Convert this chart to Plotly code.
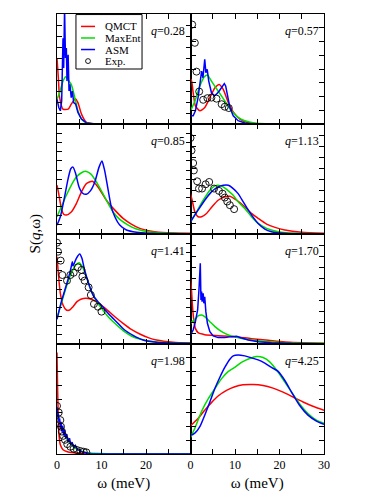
import plotly.graph_objects as go
from plotly.subplots import make_subplots

# q value of each panel, row by row (left, right)
q_labels = ["0.28", "0.57", "0.85", "1.13", "1.41", "1.70", "1.98", "4.25"]

# ---- q = 0.28 ----
w_028_qmct = [0, 0.3, 0.6, 1.35, 2.5, 3.2, 4.1, 4.7, 5.5, 6.6, 8.1, 30]
s_028_qmct = [0.60, 0.42, 0.24, 0.135, 0.135, 0.18, 0.23, 0.195, 0.09, 0.015, 0.003, 0]
w_028_maxent = [0, 0.6, 1.35, 1.95, 2.7, 3.2, 4.0, 4.7, 5.5, 6.6, 8.85, 30]
s_028_maxent = [0.225, 0.285, 0.39, 0.43, 0.39, 0.36, 0.24, 0.12, 0.045, 0.01, 0, 0]
w_028_asm = [0, 0.4, 0.75, 1.05, 1.35, 1.5, 1.7, 1.9, 2.1, 2.25, 2.5, 2.7, 2.9, 3.2,
             3.45, 3.75, 4.2, 4.7, 5.5, 6.6, 8.85, 30]
s_028_asm = [0.225, 0.15, 0.12, 0.21, 0.78, 0.51, 1.05, 0.6, 0.69, 0.39, 0.63, 0.30, 0.36, 0.24,
             0.30, 0.195, 0.18, 0.105, 0.045, 0.01, 0, 0]

# ---- q = 0.57 ----
w_057_qmct = [0, 0.2, 0.6, 1.1, 2.1, 3.2, 4.35, 5.5, 6.45, 7.35, 8.5, 9.6, 11.1, 13.0, 16, 30]
s_057_qmct = [0.39, 0.405, 0.285, 0.165, 0.12, 0.15, 0.24, 0.33, 0.36, 0.315, 0.195, 0.11,
              0.045, 0.012, 0, 0]
w_057_maxent = [0, 1.0, 2.1, 3.1, 3.8, 4.7, 6.2, 7.7, 9.2, 10.7, 12.2, 14.85, 18.2, 30]
s_057_maxent = [0.12, 0.21, 0.345, 0.43, 0.446, 0.39, 0.30, 0.21, 0.12, 0.06, 0.03, 0.006, 0, 0]
w_057_asm = [0, 0.6, 1.1, 1.7, 2.2, 2.5, 2.8, 3.0, 3.2, 3.45, 3.75, 4.1, 4.7, 5.3, 5.85, 6.45,
             7.0, 7.6, 7.9, 8.3, 8.85, 9.6, 10.7, 12.2, 14.5, 30]
s_057_asm = [0.075, 0.075, 0.12, 0.24, 0.39, 0.48, 0.42, 0.527, 0.587, 0.467, 0.497, 0.39, 0.286,
             0.256, 0.271, 0.30, 0.33, 0.367, 0.346, 0.27, 0.15, 0.075, 0.03, 0.009, 0, 0]
w_057_exp = [0.375, 0.975, 1.35, 1.95, 2.85, 3.8, 4.7, 5.85, 7.0, 7.7, 8.6]
s_057_exp = [0.904, 0.738, 0.476, 0.295, 0.22, 0.235, 0.24, 0.23, 0.18, 0.157, 0.145]

# ---- q = 0.85 ----
w_085_qmct = [0, 0.45, 0.975, 1.5, 2.1, 3.2, 4.35, 5.5, 6.6, 7.95, 9.2, 11.1, 13.0, 14.85,
              16.7, 18.6, 22.35, 26.1, 30]
s_085_qmct = [0.443, 0.352, 0.232, 0.18, 0.172, 0.2, 0.277, 0.383, 0.458, 0.479, 0.428, 0.307,
              0.217, 0.142, 0.09, 0.051, 0.018, 0.009, 0.006]
w_085_maxent = [0, 0.975, 2.1, 3.2, 4.35, 5.5, 6.6, 7.7, 8.85, 10.0, 11.1, 12.6, 14.1, 16.0,
                17.85, 20.85, 26.1, 30]
s_085_maxent = [0.157, 0.247, 0.352, 0.443, 0.518, 0.557, 0.569, 0.542, 0.473, 0.39, 0.307, 0.2,
                0.133, 0.081, 0.045, 0.018, 0.006, 0.003]
w_085_asm = [0, 0.75, 1.7, 2.5, 3.1, 3.6, 4.2, 4.95, 5.7, 6.6, 7.5, 8.5, 9.45, 10.1, 10.7, 11.5,
             12.2, 13.0, 14.1, 15.6, 17.85, 20.85, 30]
s_085_asm = [0.081, 0.157, 0.337, 0.503, 0.593, 0.608, 0.548, 0.428, 0.373, 0.361, 0.392, 0.473,
             0.608, 0.663, 0.578, 0.398, 0.247, 0.157, 0.081, 0.036, 0.015, 0.006, 0.003]

# ---- q = 1.13 ----
w_113_qmct = [0, 0.375, 0.975, 1.7, 2.5, 3.6, 4.7, 6.2, 7.6, 8.85, 10.35, 12.2, 13.7, 15.2,
              17.1, 19.0, 21.2, 25.0, 30]
s_113_qmct = [0.367, 0.307, 0.202, 0.157, 0.157, 0.187, 0.241, 0.307, 0.337, 0.343, 0.307, 0.247,
              0.187, 0.142, 0.09, 0.06, 0.036, 0.015, 0.006]
w_113_maxent = [0, 1.35, 2.85, 4.35, 5.5, 6.2, 7.35, 8.5, 9.6, 10.7, 12.2, 13.7, 15.2, 17.1,
                19.0, 22.0, 30]
s_113_maxent = [0.111, 0.202, 0.307, 0.398, 0.437, 0.443, 0.428, 0.392, 0.352, 0.292, 0.232, 0.157,
                0.096, 0.051, 0.027, 0.009, 0.003]
w_113_asm = [0, 1.7, 3.2, 4.7, 6.2, 7.35, 8.5, 9.6, 10.7, 11.85, 13.0, 14.1, 15.2, 16.7, 18.2,
             21.2, 30]
s_113_asm = [0.111, 0.217, 0.307, 0.383, 0.428, 0.443, 0.443, 0.413, 0.367, 0.292, 0.217, 0.151,
             0.096, 0.045, 0.021, 0.006, 0.003]
w_113_exp = [0, 0.225, 0.6, 0.75, 1.5, 1.9, 2.6, 3.4, 4.2, 5.3, 6.4, 7.2, 7.7, 8.25, 8.85, 9.8]
s_113_exp = [0.873, 0.759, 0.645, 0.578, 0.479, 0.413, 0.413, 0.452, 0.473, 0.413, 0.392, 0.367,
             0.331, 0.295, 0.262, 0.226]

# ---- q = 1.41 ----
w_141_qmct = [0, 0.3, 0.75, 1.35, 2.1, 2.85, 3.6, 4.5, 5.5, 6.6, 8.1, 9.6, 11.1, 13.0, 14.85,
              16.7, 18.6, 20.5, 22.35, 26.1, 30]
s_141_qmct = [0.794, 0.642, 0.461, 0.355, 0.309, 0.309, 0.339, 0.385, 0.409, 0.415, 0.4, 0.364,
              0.315, 0.248, 0.188, 0.133, 0.091, 0.058, 0.036, 0.015, 0.006]
w_141_maxent = [0, 0.975, 2.1, 3.2, 4.2, 4.95, 5.7, 6.6, 7.35, 8.5, 10.0, 11.5, 13.0, 14.85,
                16.7, 18.6, 22.35, 30]
s_141_maxent = [0.233, 0.37, 0.521, 0.642, 0.718, 0.739, 0.703, 0.612, 0.521, 0.415, 0.324, 0.248,
                0.188, 0.121, 0.073, 0.045, 0.018, 0.006]
w_141_asm = [0, 0.975, 2.1, 2.85, 3.2, 3.45, 3.6, 4.35, 5.1, 5.6, 6.2, 7.35, 8.1, 9.2, 10.35,
             11.85, 13.35, 15.2, 17.1, 19.35, 22.35, 30]
s_141_asm = [0.224, 0.385, 0.536, 0.642, 0.703, 0.748, 0.709, 0.779, 0.818, 0.779, 0.673, 0.521,
             0.445, 0.385, 0.333, 0.264, 0.203, 0.127, 0.079, 0.036, 0.015, 0.006]
w_141_exp = [0, 0.225, 0.825, 1.2, 2.25, 3.0, 3.75, 4.7, 5.5, 5.7, 6.2, 7.1, 7.6, 8.3, 9.2, 10.0]
s_141_exp = [0.921, 0.839, 0.758, 0.627, 0.576, 0.627, 0.648, 0.697, 0.673, 0.612, 0.576, 0.515,
             0.445, 0.364, 0.339, 0.294]

# ---- q = 1.70 ----
w_170_qmct = [0, 0.225, 0.45, 0.75, 1.1, 1.7, 3.2, 6.2, 10.0, 13.7, 17.5, 21.2, 30]
s_170_qmct = [0.597, 0.491, 0.339, 0.218, 0.142, 0.103, 0.085, 0.076, 0.067, 0.048, 0.033,
              0.018, 0.006]
w_170_maxent = [0, 0.975, 1.7, 2.5, 3.2, 4.35, 5.5, 7.0, 8.5, 10.0, 11.85, 13.7, 17.5, 21.2, 30]
s_170_maxent = [0.188, 0.224, 0.255, 0.264, 0.248, 0.203, 0.158, 0.112, 0.082, 0.064, 0.048,
                0.036, 0.021, 0.012, 0.006]
w_170_asm = [0, 0.6, 1.1, 1.6, 1.9, 2.0, 2.2, 2.35, 2.5, 2.6, 2.85, 3.0, 3.2, 3.45, 3.8, 4.35,
             5.1, 6.2, 7.7, 9.2, 10.35, 11.5, 13.0, 15.2, 18.2, 22.7, 30]
s_170_asm = [0.082, 0.127, 0.203, 0.309, 0.491, 0.582, 0.733, 0.40, 0.476, 0.385, 0.461, 0.37,
             0.43, 0.294, 0.188, 0.112, 0.073, 0.058, 0.058, 0.067, 0.07, 0.055, 0.036, 0.021,
             0.012, 0.006, 0.003]

# ---- q = 1.98 ----
w_198_qmct = [0, 0.075, 0.15, 0.3, 0.45, 0.75, 1.35, 2.5, 4.35, 8.1, 30]
s_198_qmct = [0.922, 0.743, 0.563, 0.323, 0.174, 0.084, 0.039, 0.018, 0.009, 0.003, 0]
w_198_maxent = [0, 0.45, 0.975, 1.7, 2.5, 3.6, 4.7, 5.85, 7.35, 11.1, 30]
s_198_maxent = [0.368, 0.308, 0.24, 0.174, 0.12, 0.069, 0.039, 0.021, 0.009, 0.003, 0]
w_198_asm = [0, 0.15, 0.3, 0.45, 0.6, 0.75, 0.9, 1.05, 1.3, 1.5, 1.7, 1.95, 2.2, 2.5, 2.8, 3.1,
             3.4, 3.75, 4.1, 4.6, 5.1, 5.7, 6.45, 7.35, 30]
s_198_asm = [0.428, 0.338, 0.368, 0.293, 0.323, 0.234, 0.293, 0.204, 0.257, 0.168, 0.219, 0.144,
             0.18, 0.108, 0.144, 0.084, 0.108, 0.06, 0.078, 0.039, 0.033, 0.018, 0.012, 0.003, 0]
w_198_exp = [0, 0.4, 0.75, 0.9, 1.1, 1.4, 1.8, 2.3, 3.0, 3.75, 4.5, 5.25, 6.0, 6.6]
s_198_exp = [0.437, 0.377, 0.308, 0.249, 0.204, 0.165, 0.129, 0.09, 0.066, 0.048, 0.036, 0.027,
             0.021, 0.015]

# ---- q = 4.25 ----
w_425_qmct = [0, 1.7, 3.2, 4.7, 6.2, 8.1, 9.95, 11.8, 14.1, 16.3, 18.55, 20.8, 23.05, 25.3,
              27.5, 30]
s_425_qmct = [0.257, 0.323, 0.398, 0.467, 0.527, 0.578, 0.611, 0.629, 0.632, 0.623, 0.599, 0.563,
              0.518, 0.473, 0.434, 0.398]
w_425_maxent = [0, 0.975, 2.5, 4.0, 5.45, 6.95, 8.45, 9.95, 11.45, 13.3, 14.8, 16.3, 17.8, 19.7,
                21.2, 22.7, 24.5, 26.4, 28.3, 30]
s_425_maxent = [0.15, 0.234, 0.389, 0.503, 0.593, 0.683, 0.749, 0.787, 0.832, 0.868, 0.886, 0.877,
                0.838, 0.743, 0.653, 0.563, 0.458, 0.368, 0.308, 0.278]
w_425_asm = [0, 0.075, 0.975, 2.1, 3.2, 4.35, 5.45, 6.6, 7.7, 8.85, 9.6, 10.7, 12.2, 13.7, 15.2,
             16.7, 18.2, 19.7, 21.2, 22.7, 24.5, 26.4, 28.3, 30]
s_425_asm = [0.353, 0.174, 0.189, 0.249, 0.353, 0.473, 0.593, 0.698, 0.787, 0.862, 0.892, 0.901,
             0.892, 0.874, 0.856, 0.826, 0.787, 0.751, 0.668, 0.563, 0.443, 0.353, 0.299, 0.269]

panels = [
    dict(qmct=(w_028_qmct, s_028_qmct), maxent=(w_028_maxent, s_028_maxent),
         asm=(w_028_asm, s_028_asm), exp=None),
    dict(qmct=(w_057_qmct, s_057_qmct), maxent=(w_057_maxent, s_057_maxent),
         asm=(w_057_asm, s_057_asm), exp=(w_057_exp, s_057_exp)),
    dict(qmct=(w_085_qmct, s_085_qmct), maxent=(w_085_maxent, s_085_maxent),
         asm=(w_085_asm, s_085_asm), exp=None),
    dict(qmct=(w_113_qmct, s_113_qmct), maxent=(w_113_maxent, s_113_maxent),
         asm=(w_113_asm, s_113_asm), exp=(w_113_exp, s_113_exp)),
    dict(qmct=(w_141_qmct, s_141_qmct), maxent=(w_141_maxent, s_141_maxent),
         asm=(w_141_asm, s_141_asm), exp=(w_141_exp, s_141_exp)),
    dict(qmct=(w_170_qmct, s_170_qmct), maxent=(w_170_maxent, s_170_maxent),
         asm=(w_170_asm, s_170_asm), exp=None),
    dict(qmct=(w_198_qmct, s_198_qmct), maxent=(w_198_maxent, s_198_maxent),
         asm=(w_198_asm, s_198_asm), exp=(w_198_exp, s_198_exp)),
    dict(qmct=(w_425_qmct, s_425_qmct), maxent=(w_425_maxent, s_425_maxent),
         asm=(w_425_asm, s_425_asm), exp=None),
]

# y tick spacing differs per panel (no labels on y)
y_dtick = [0.1, 0.125, 0.083, 0.1, 0.083, 0.1, 0.125, 0.125]
spiky_asm = {0, 1, 5, 6}

FONT = "Liberation Serif, Times New Roman, serif"
series = [("qmct", "QMCT", "#ff0000"), ("maxent", "MaxEnt", "#00dd00"), ("asm", "ASM", "#0000ff")]
EXP_MARKER = dict(symbol="circle-open", size=7, color="black", line=dict(width=0.9))

fig = make_subplots(rows=4, cols=2, horizontal_spacing=0, vertical_spacing=0)

for i, p in enumerate(panels):
    row, col = i // 2 + 1, i % 2 + 1
    for key, name, color in series:
        w, s = p[key]
        shape = "linear" if (key == "asm" and i in spiky_asm) else "spline"
        fig.add_trace(go.Scatter(
            x=w, y=s, mode="lines", name=name, showlegend=False,
            line=dict(color=color, width=1.5, shape=shape, smoothing=0.6),
        ), row=row, col=col)
    if p["exp"] is not None:
        w, s = p["exp"]
        fig.add_trace(go.Scatter(x=w, y=s, mode="markers", name="Exp.", showlegend=False,
                                 marker=EXP_MARKER), row=row, col=col)
    sfx = "" if i == 0 else str(i + 1)
    fig.add_annotation(
        x=0.975, y=0.93, xref=f"x{sfx} domain", yref=f"y{sfx} domain",
        text="<i>q</i>=" + q_labels[i], showarrow=False, xanchor="right", yanchor="top",
        font=dict(family=FONT, size=12, color="black"),
    )
    fig.update_yaxes(range=[0, 1], dtick=y_dtick[i], tick0=0, row=row, col=col)
    bottom = row == 4
    fig.update_xaxes(
        range=[0, 30], tickvals=[0, 5, 10, 15, 20, 25, 30],
        ticktext=(["0", "", "10", "", "20", "", ""] if col == 1 else
                  ["0", "", "10", "", "20", "", "30"]),
        showticklabels=bottom, row=row, col=col,
        title=dict(text="ω (meV)" if bottom else "", font=dict(family=FONT, size=15), standoff=6),
    )

fig.update_xaxes(showline=True, linecolor="black", linewidth=1, mirror="ticks", ticks="inside",
                 ticklen=5, tickcolor="black", showgrid=False, zeroline=False,
                 tickfont=dict(family=FONT, size=12, color="black"))
fig.update_yaxes(showline=True, linecolor="black", linewidth=1, mirror="ticks", ticks="inside",
                 ticklen=5, tickcolor="black", showgrid=False, zeroline=False,
                 showticklabels=False)

# legend box drawn inside the first panel
fig.add_shape(type="rect", xref="x domain", yref="y domain", x0=0.142, x1=0.637, y0=0.5, y1=0.995,
              line=dict(color="black", width=1), fillcolor="white", layer="above")
legend_y = [0.887, 0.782, 0.677, 0.572]
for (key, name, color), ly in zip(series, legend_y):
    fig.add_shape(type="line", xref="x domain", yref="y domain", x0=0.18, x1=0.285, y0=ly, y1=ly,
                  line=dict(color=color, width=1.5), layer="above")
fig.add_shape(type="circle", xref="x domain", yref="y domain", x0=0.214, x1=0.251,
              y0=legend_y[3] - 0.022, y1=legend_y[3] + 0.022,
              line=dict(color="black", width=0.9), layer="above")
for name, ly in zip(["QMCT", "MaxEnt", "ASM", "Exp."], legend_y):
    fig.add_annotation(x=0.345, y=ly, xref="x domain", yref="y domain", text=name,
                       showarrow=False, xanchor="left", yanchor="middle",
                       font=dict(family=FONT, size=11, color="black"))

fig.add_annotation(
    x=-0.12, y=0.5, xref="paper", yref="paper", text="S(<i>q</i>,ω)", textangle=-90,
    showarrow=False, font=dict(family=FONT, size=15, color="black"),
)

# page body adds an 8px offset, so the figure is 8px smaller than the window
fig.update_layout(
    width=374, height=486,
    margin=dict(l=49, r=58, t=5, b=38),
    plot_bgcolor="white", paper_bgcolor="white",
    font=dict(family=FONT, color="black"),
    showlegend=False,
)

fig.write_html("out.html")
